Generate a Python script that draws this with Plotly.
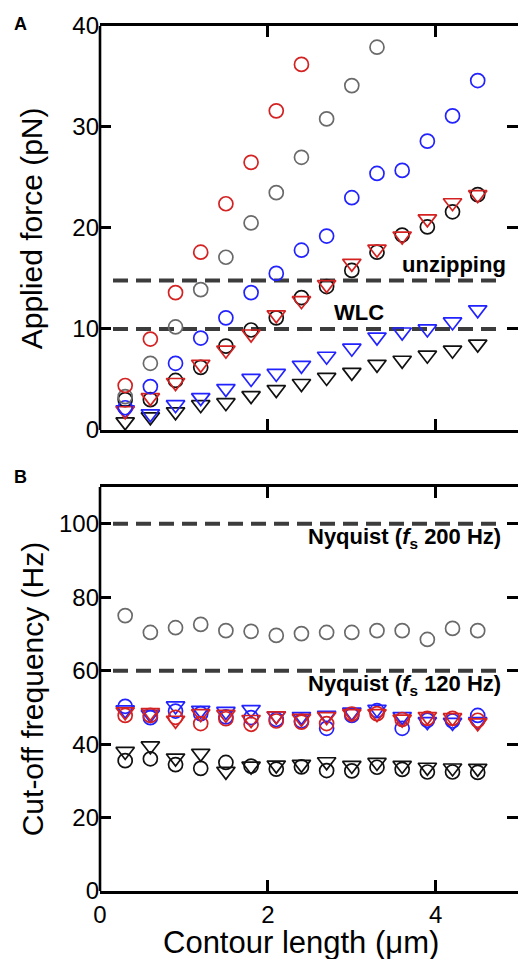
import plotly.graph_objects as go

# ---------------- data ----------------
contour_length = [0.3, 0.6, 0.9, 1.2, 1.5, 1.8, 2.1, 2.4, 2.7, 3.0, 3.3, 3.6, 3.9, 4.2, 4.5]

# Panel A: applied force (pN)
force_red_circle = [4.4, 9.0, 13.6, 17.6, 22.4, 26.5, 31.6, 36.2]
force_gray_circle = [3.3, 6.6, 10.2, 13.9, 17.1, 20.5, 23.5, 27.0, 30.8, 34.1, 37.9]
force_blue_circle = [2.2, 4.3, 6.6, 9.1, 11.1, 13.6, 15.5, 17.8, 19.2, 23.0, 25.4, 25.7, 28.6, 31.1, 34.6]
force_black_circle = [3.0, 3.0, 4.9, 6.2, 8.3, 9.9, 11.1, 13.1, 14.2, 15.8, 17.6, 19.3, 20.1, 21.6, 23.3]
force_red_tri = [1.9, 3.2, 4.7, 6.5, 7.9, 9.5, 11.4, 12.8, 14.4, 16.5, 17.9, 19.2, 20.9, 22.5, 23.3]
force_blue_tri = [2.0, 1.6, 2.5, 3.2, 4.1, 5.1, 5.6, 6.4, 7.3, 8.1, 9.2, 9.7, 10.0, 10.7, 11.9]
force_black_tri = [0.8, 1.3, 1.8, 2.5, 2.7, 3.4, 4.0, 4.6, 5.2, 5.7, 6.5, 6.9, 7.4, 7.9, 8.5]
force_ref_levels = [14.8, 10.0]
force_ref_labels = ["unzipping", "WLC"]

# Panel B: cut-off frequency (Hz)
freq_gray_circle = [75.0, 70.4, 71.7, 72.6, 70.9, 70.7, 69.6, 70.1, 70.4, 70.4, 70.9, 70.9, 68.5, 71.5, 70.9]
freq_blue_circle = [50.3, 47.2, 49.0, 48.3, 47.4, 47.2, 46.7, 46.3, 44.3, 47.8, 49.1, 44.3, 46.5, 46.3, 47.8]
freq_blue_tri = [49.3, 48.1, 50.4, 49.2, 48.9, 49.4, 47.7, 47.5, 47.8, 48.7, 49.5, 47.5, 46.1, 45.9, 46.1]
freq_red_circle = [47.8, 47.8, 47.3, 45.6, 46.9, 45.4, 46.3, 46.0, 45.6, 48.2, 48.3, 46.7, 47.0, 47.0, 46.5]
freq_red_tri = [48.8, 48.6, 46.5, 48.3, 48.1, 46.7, 47.7, 47.0, 47.5, 48.3, 48.3, 46.8, 47.5, 47.2, 45.8]
freq_black_circle = [35.5, 36.0, 34.4, 33.4, 35.0, 34.0, 33.2, 33.8, 32.8, 32.7, 33.7, 33.1, 32.4, 32.4, 32.3]
freq_black_tri = [38.0, 39.5, 36.2, 37.5, 32.6, 34.0, 34.3, 34.5, 35.2, 34.2, 35.0, 34.2, 33.7, 33.5, 33.4]
freq_ref_levels = [100, 60]
freq_ref_labels = ["<b>Nyquist (<i>f</i><sub>s</sub> 200 Hz)</b>", "<b>Nyquist (<i>f</i><sub>s</sub> 120 Hz)</b>"]

# ---------------- styles ----------------
RED = "#d42222"
BLUE = "#2222ff"
GRAY = "#6a6a6a"
BLACK = "#111111"
DASH = "#3c3c3c"
FONT = "Liberation Sans, Arial, Helvetica, sans-serif"
LW = 2.6

fig = go.Figure()


def pts(y, color, symbol, xa, ya):
    size = 14 if symbol == "circle-open" else 16
    fig.add_trace(go.Scatter(
        x=contour_length[:len(y)], y=y, mode="markers",
        marker=dict(symbol=symbol, size=size, color=color, line=dict(width=1.7, color=color)),
        xaxis=xa, yaxis=ya, showlegend=False, hoverinfo="skip"))


def dashed(level, xa, ya):
    fig.add_trace(go.Scatter(
        x=[0.155, 4.78], y=[level, level], mode="lines",
        line=dict(color=DASH, width=4, dash="15px,8px"),
        xaxis=xa, yaxis=ya, showlegend=False, hoverinfo="skip"))


# Panel A
for lv in force_ref_levels:
    dashed(lv, "x", "y")
pts(force_black_tri, BLACK, "triangle-down-open", "x", "y")
pts(force_blue_tri, BLUE, "triangle-down-open", "x", "y")
pts(force_black_circle, BLACK, "circle-open", "x", "y")
pts(force_red_tri, RED, "triangle-down-open", "x", "y")
pts(force_blue_circle, BLUE, "circle-open", "x", "y")
pts(force_gray_circle, GRAY, "circle-open", "x", "y")
pts(force_red_circle, RED, "circle-open", "x", "y")

# Panel B
for lv in freq_ref_levels:
    dashed(lv, "x2", "y2")
pts(freq_black_circle, BLACK, "circle-open", "x2", "y2")
pts(freq_black_tri, BLACK, "triangle-down-open", "x2", "y2")
pts(freq_blue_circle, BLUE, "circle-open", "x2", "y2")
pts(freq_blue_tri, BLUE, "triangle-down-open", "x2", "y2")
pts(freq_red_circle, RED, "circle-open", "x2", "y2")
pts(freq_red_tri, RED, "triangle-down-open", "x2", "y2")
pts(freq_gray_circle, GRAY, "circle-open", "x2", "y2")

tick_common = dict(
    ticks="inside", ticklen=11, tickwidth=LW, tickcolor="black",
    showgrid=False, zeroline=False, mirror="ticks",
    tickfont=dict(family=FONT, size=24, color="black"),
)
x_common = dict(showline=True, linewidth=LW, linecolor="black", **tick_common)
# y axes: left line drawn as a shape so the right frame edge stays outside the page
y_common = dict(showline=False, **tick_common)

dom_a = [0.533, 1]
dom_b = [0, 0.467]

fig.update_layout(
    width=518, height=959,
    margin=dict(l=100, r=0, t=26, b=68),
    paper_bgcolor="white", plot_bgcolor="white",
    font=dict(family=FONT, color="black"),
    showlegend=False,
    xaxis=dict(domain=[0, 1], range=[0, 4.98], anchor="y", tick0=0, dtick=2,
               showticklabels=False, **x_common),
    yaxis=dict(domain=dom_a, range=[0, 40], anchor="x", tick0=0, dtick=10, **y_common),
    xaxis2=dict(domain=[0, 1], range=[0, 4.98], anchor="y2", tick0=0, dtick=2, **x_common),
    yaxis2=dict(domain=dom_b, range=[0, 110], anchor="x2", tick0=0, dtick=20, **y_common),
    shapes=[
        dict(type="line", xref="paper", yref="paper", x0=0, x1=0, y0=dom_a[0], y1=dom_a[1],
             line=dict(color="black", width=LW)),
        dict(type="line", xref="paper", yref="paper", x0=0, x1=0, y0=dom_b[0], y1=dom_b[1],
             line=dict(color="black", width=LW)),
    ],
)

annotations = [
    # panel letters
    dict(text="<b>A</b>", x=-0.191, y=1.002, xref="paper", yref="paper",
         xanchor="center", yanchor="middle", showarrow=False, font=dict(family=FONT, size=18)),
    dict(text="<b>B</b>", x=-0.191, y=0.479, xref="paper", yref="paper",
         xanchor="center", yanchor="middle", showarrow=False, font=dict(family=FONT, size=18)),
    # axis titles
    dict(text="Applied force (pN)", x=-0.162, y=0.7665, xref="paper", yref="paper",
         textangle=-90, xanchor="center", yanchor="middle", showarrow=False,
         font=dict(family=FONT, size=30)),
    dict(text="Cut-off frequency (Hz)", x=-0.162, y=0.2335, xref="paper", yref="paper",
         textangle=-90, xanchor="center", yanchor="middle", showarrow=False,
         font=dict(family=FONT, size=30)),
    dict(text="Contour length (\u03bcm)", x=0.482, y=-0.060, xref="paper", yref="paper",
         xanchor="center", yanchor="middle", showarrow=False,
         font=dict(family=FONT, size=31)),
    # reference line labels, panel A
    dict(text="<b>" + force_ref_labels[0] + "</b>", x=4.86, y=16.4, xref="x", yref="y",
         xanchor="right", yanchor="middle", showarrow=False, font=dict(family=FONT, size=22)),
    dict(text="<b>" + force_ref_labels[1] + "</b>", x=3.08, y=11.6, xref="x", yref="y",
         xanchor="center", yanchor="middle", showarrow=False, font=dict(family=FONT, size=22)),
    # reference line labels, panel B
    dict(text=freq_ref_labels[0], x=4.80, y=96.0, xref="x2", yref="y2",
         xanchor="right", yanchor="middle", showarrow=False, font=dict(family=FONT, size=22)),
    dict(text=freq_ref_labels[1], x=4.80, y=56.0, xref="x2", yref="y2",
         xanchor="right", yanchor="middle", showarrow=False, font=dict(family=FONT, size=22)),
]
fig.update_layout(annotations=annotations)

fig.write_html(
    "out.html",
    config={"displayModeBar": False},
    post_script="document.body.style.margin='0px';document.body.style.overflow='hidden';",
)
